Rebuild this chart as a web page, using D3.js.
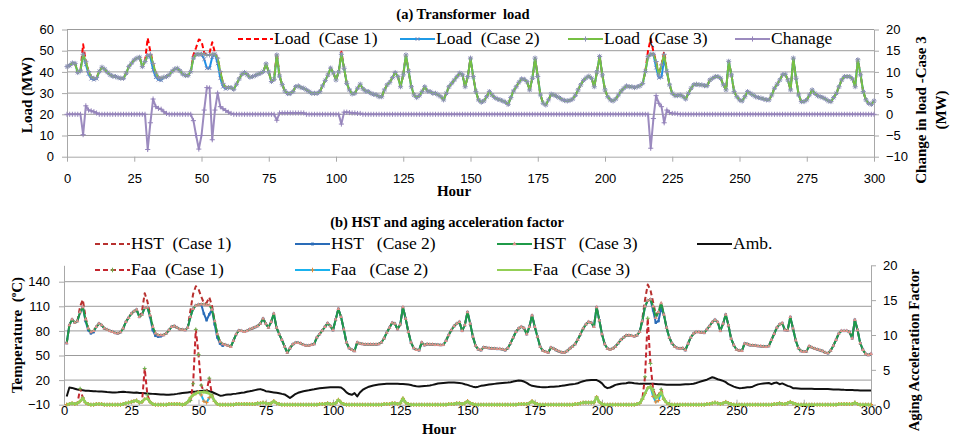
<!DOCTYPE html>
<html>
<head>
<meta charset="utf-8">
<script src="https://cdn.jsdelivr.net/npm/d3@7"></script>
<style>
  body { margin: 0; background: #fff; }
  svg { display: block; }
  text { font-family: "Liberation Serif", "Times New Roman", serif; fill: #000; }
  .tick text { font-family: "Liberation Sans", Arial, sans-serif; font-size: 13px; }
  .pre { white-space: pre; }
</style>
</head>
<body>
<svg id="chart" width="954" height="437"></svg>
<script>
// ---------------- data ----------------
const hourTicks = [0, 25, 50, 75, 100, 125, 150, 175, 200, 225, 250, 275, 300];
const loadTicks = [0, 10, 20, 30, 40, 50, 60];
const changeTicks = [-10, -5, 0, 5, 10, 15, 20];
const tempTicks = [-10, 20, 50, 80, 110, 140];
const faaTicks = [0, 5, 10, 15, 20];

// (a) hours 0..300
const loadCase3 = [
  42.5, 43, 44.2, 44, 39.7, 40.5, 48.3, 45, 40.2, 37.8,
  37, 37.3, 40.2, 42.2, 41.3, 39.8, 38.6, 38, 37.8, 37.3,
  37, 37, 39.4, 42.5, 44.1, 45.7, 46.5, 46.9, 42.5, 44.9,
  47.7, 48.3, 44, 39.4, 37.5, 37, 37.5, 37.8, 38.6, 40.2,
  41.3, 41.7, 40.5, 39, 38.3, 38.3, 40.2, 46.5, 48.3, 48.3,
  48.3, 48.3, 48, 48, 48.3, 48.3, 46.5, 40.2, 34.6, 32.6,
  32.6, 32.6, 31.8, 34.2, 36.7, 38.9, 39.7, 38.6, 37.5, 37.8,
  38.3, 38.9, 39.4, 40.2, 43.8, 40, 35.5, 36.5, 48, 38,
  34, 31, 29.8, 29.8, 30.7, 33, 33.4, 32.6, 32.3, 31.5,
  30.7, 29.9, 29.9, 29.9, 30.7, 33.4, 36, 38.5, 41.8, 39.5,
  36.2, 40, 48.3, 41.7, 34.6, 31.5, 29.6, 29.9, 32.3, 34.2,
  32, 31, 30.7, 29.9, 29.4, 29.1, 28.3, 28.3, 31.5, 33.9,
  35.1, 37.3, 39.7, 37.8, 33, 38.6, 48, 40.2, 33, 29.1,
  27.9, 28.8, 30.7, 33, 31, 30.7, 29.9, 29.9, 29.1, 28.3,
  26.8, 29.9, 33, 34.6, 36.2, 37.8, 39.4, 38.6, 33, 37.8,
  46.5, 37.8, 30.7, 26.8, 25.7, 26.3, 28.3, 30.7, 29.1, 27.9,
  27.2, 26.8, 26.3, 25.7, 24.7, 27.9, 31, 33, 35.1, 36.7,
  36.5, 35.4, 31.5, 37, 46.5, 37.8, 29.1, 25.2, 24.4, 26.8,
  29.5, 29.1, 28.5, 27.8, 27, 26.5, 26.3, 26.6, 27.2, 29,
  31.5, 33.9, 36, 37.2, 38, 37, 33, 40, 47.3, 38.6,
  31.5, 28.3, 26.8, 26.3, 27.2, 29.1, 31, 32.3, 33.4, 33,
  33, 32.6, 33, 33.4, 34.6, 40.2, 47.2, 48.3, 48.3, 44.9,
  38.6, 43.3, 48.3, 40.2, 33.9, 29.9, 28.8, 28.8, 29.1, 28.3,
  27.2, 29.9, 32.3, 33.9, 34.2, 33.9, 33.9, 33.5, 33.5, 36.2,
  37, 37.8, 37.8, 37, 33.9, 31.5, 45, 38.6, 30.7, 28.3,
  26.8, 26.3, 28.3, 30.7, 29.9, 29.1, 28.3, 27.9, 27.6, 27.2,
  26.8, 26.8, 29.1, 32.3, 34.2, 36.2, 38.6, 38.9, 36.2, 31.5,
  46.5, 37, 29.1, 26, 26, 26.8, 29.1, 31.5, 29.9, 28.8,
  28.3, 27.9, 27.2, 26.3, 26, 27.9, 29.9, 33, 36.2, 37.8,
  37.8, 37.8, 36.7, 33, 45.7, 38.6, 30.7, 26.8, 25.2, 24.7,
  26.3
];
// hours where Case 1 / Case 2 leave the Case 3 curve: [hour, MW]
const loadCase1Diff = [[6, 53], [30, 56], [31, 49.5], [47, 48], [48, 51.5], [49, 55.3], [50, 54.5], [51, 49],
  [53, 49], [54, 54], [55, 49], [78, 49], [102, 49.5], [216, 50], [217, 55.6], [218, 49.5], [222, 49.5]];
const loadCase2Diff = [[7, 43.5], [8, 39], [9, 36.8], [10, 36.3], [11, 36.8], [31, 47], [32, 41], [33, 37.5],
  [34, 36.3], [35, 36], [51, 46], [52, 41.7], [53, 41.7], [54, 47], [56, 44], [57, 37], [58, 33], [59, 32],
  [219, 42], [220, 37.2], [221, 37.5], [222, 46]];
const loadChange = [
  0, 0, 0, 0, 0, 0, -4.8, 2, 1, 0.8,
  0.6, 0.3, 0, 0, 0, 0, 0, 0, 0, 0,
  0, 0, 0, 0, 0, 0, 0, 0, 0, 0,
  -8.3, -2, 3.6, 1.8, 1.4, 1.2, 0.6, 0.2, 0, 0,
  0, 0, 0, 0, 0, 0, 0, -1.5, -5, -8.2,
  -5, 1, 6.3, 6.2, -6, 1, 5, 1.8, 1.3, 0.9,
  0.5, 0.2, 0, 0, 0, 0, 0, 0, 0, 0,
  0, 0, 0, 0, 0, 0, 0, 0, -1.4, 0.3,
  0.3, 0.3, 0.3, 0.3, 0.3, 0.3, 0.3, 0.3, 0.3, 0,
  0, 0, 0, 0, 0, 0, 0, 0, 0, 0,
  0, 0, -2.3, 0.5, 0.5, 0.4, 0.3, 0.3, 0.2, 0.2,
  0, 0, 0, 0, 0, 0, 0, 0, 0, 0,
  0, 0, 0, 0, 0, 0, 0, 0, 0, 0,
  0, 0, 0, 0, 0, 0, 0, 0, 0, 0,
  0, 0, 0, 0, 0, 0, 0, 0, 0, 0,
  0, 0, 0, 0, 0, 0, 0, 0, 0, 0,
  0, 0, 0, 0, 0, 0, 0, 0, 0, 0,
  0, 0, 0, 0, 0, 0, 0, 0, 0, 0,
  0, 0, 0, 0, 0, 0, 0, 0, 0, 0,
  0, 0, 0, 0, 0, 0, 0, 0, 0, 0,
  0, 0, 0, 0, 0, 0, 0, 0, 0, 0,
  0, 0, 0, 0, 0, 0, 0, -8, -1, 4.4,
  2.6, 1.8, -2, 1, 0.4, 0.2, 0.2, 0.1, 0, 0,
  0, 0, 0, 0, 0, 0, 0, 0, 0, 0,
  0, 0, 0, 0, 0, 0, 0, 0, 0, 0,
  0, 0, 0, 0, 0, 0, 0, 0, 0, 0,
  0, 0, 0, 0, 0, 0, 0, 0, 0, 0,
  0, 0, 0, 0, 0, 0, 0, 0, 0, 0,
  0, 0, 0, 0, 0, 0, 0, 0, 0, 0,
  0, 0, 0, 0, 0, 0, 0, 0, 0, 0,
  0
];

// (b) hours 1..300
const hstCase3 = [
  65, 87, 94, 90, 92, 103, 109, 94, 83, 78.5,
  80, 85, 89, 87, 83, 81.5, 80, 79, 77.5, 77,
  78.5, 83, 91, 96, 101, 104, 106, 97, 100, 108,
  108.7, 99, 85, 77, 75, 75, 75, 77, 81, 85,
  86, 84, 82, 81.5, 81, 84, 97, 107, 111, 112,
  112.4, 112.4, 111.5, 111.5, 106, 92, 76, 67, 64, 63,
  62, 60.7, 68, 76, 80.5, 80, 79, 80, 82, 83,
  84.5, 86, 89, 95, 89, 84, 91, 101, 84, 76,
  69, 61, 53.5, 59, 63.5, 65.5, 65.5, 64.8, 63, 62,
  62, 63, 64, 72, 76, 80.5, 85, 89.5, 86, 81,
  94, 107, 97, 82, 66, 59, 57, 55.5, 66, 64.5,
  64, 63.5, 63.5, 63.5, 63.5, 63.5, 64, 66, 71, 78,
  84, 90, 89, 82, 88, 109, 95, 79, 66, 59,
  57, 56.5, 66, 62.6, 64, 63.5, 63.5, 63, 63, 62.8,
  63, 68, 75, 81, 86, 89, 91, 80, 87, 103,
  89, 73, 62, 57.5, 56.5, 60, 59.5, 59, 58.5, 58.5,
  58, 58, 57.5, 56.5, 59, 65, 72, 79, 83, 85,
  83.5, 76, 85, 99, 85, 73, 61, 56, 54.5, 53.5,
  59.8, 58.5, 56.5, 55, 54, 53.5, 55.5, 58.5, 61, 64,
  69.5, 76, 83, 88, 91, 90, 85, 109, 93, 76,
  64, 58.5, 57.3, 58.5, 61, 65, 69, 72, 74.5, 74.7,
  74, 73.5, 74.7, 79, 92, 110, 117, 118.5, 110, 96,
  103, 114, 100, 84, 72, 65, 61, 59, 58.5, 59,
  56.5, 64.6, 72, 76.7, 78.7, 78.7, 78, 77.5, 82, 86,
  90.8, 93.6, 90.8, 80, 88.8, 100, 86.8, 70.6, 62.6, 57.3,
  56, 55.7, 64.6, 64, 62.6, 62.5, 62, 61.5, 61.4, 61,
  60.6, 61.5, 69, 76.5, 84, 88, 89.6, 81, 80.7, 97,
  83, 68.6, 59, 55.5, 54.5, 55, 61.4, 60, 58.5, 57.5,
  56.5, 55.5, 53.5, 52.8, 56, 62, 69, 76.7, 80, 80,
  80, 78.7, 71, 93.6, 81, 65, 57, 52, 50.5, 52
];
const hstCase1Diff = [[6, 110], [7, 118], [8, 97], [29, 104], [30, 126], [31, 116], [32, 100],
  [47, 105], [48, 125], [49, 134.5], [50, 131], [51, 122], [52, 114], [53, 114], [54, 121], [55, 111],
  [215, 95], [216, 118], [217, 136.5], [218, 130], [219, 115], [220, 100]];
const hstCase2Diff = [[8, 92], [9, 81], [10, 77], [11, 78.5], [32, 97], [33, 81], [34, 74], [35, 73], [36, 73.5],
  [52, 101], [53, 93], [54, 100], [56, 88], [57, 72], [58, 64.5], [59, 62],
  [219, 105], [220, 90], [221, 92], [222, 108]];
const ambient = [
  0, 11, 10.5, 9.5, 8.5, 8, 7.5, 7, 7, 6.8,
  6.5, 6.3, 6.2, 6, 5.8, 5.5, 5.3, 5, 5, 5.2,
  5.5, 5.8, 5.5, 5.3, 5, 4.5, 5, 4.3, 4.2, 4,
  3.8, 3.5, 3.2, 3, 2.8, 2.5, 2.3, 2.1, 2.2, 2.5,
  2.8, 3.2, 3.8, 4.2, 4.6, 5, 5.4, 5.7, 6, 6.4,
  6.8, 7, 7, 6.5, 5.5, 4, 2.5, 1, 1.2, 2,
  2.3, 2.5, 3.2, 3.5, 4, 4.5, 5, 5.7, 6.3, 7,
  7.8, 8.5, 9, 8, 6.5, 6, 5.5, 5, 4.5, 4,
  3.2, 2.5, 0.5, -1.9, 0.5, 3, 4.5, 5.5, 6.5, 7,
  7.5, 8.2, 8.8, 9.5, 10, 10.5, 10.8, 11, 11.2, 11.3,
  11.4, 11.4, 11, 8.5, 5, 3, 2.1, 4.1, 0.1, 4.9,
  8, 10, 11.5, 12.5, 13.5, 14, 14.5, 15, 15.2, 15.4,
  15.5, 15.5, 15.5, 15.4, 15.3, 15.2, 15, 14.5, 14, 13,
  12.5, 12.2, 12.5, 12.8, 13, 13.5, 14.2, 15, 15.8, 16.2,
  16.5, 16.8, 17, 17, 17, 16.8, 16.5, 16, 15, 14.2,
  13, 12, 11.4, 12, 13, 13.5, 14, 14.5, 15, 15.4,
  15.8, 16.2, 16.5, 16.8, 17, 17.5, 18.2, 19, 19.4, 19.2,
  18.2, 16.5, 14.5, 13, 12.5, 12, 11.5, 11.4, 11.4, 11.5,
  11.8, 12, 12.3, 12.6, 13, 13.5, 14, 14.5, 15, 15.4,
  16.2, 17.5, 18.5, 19.4, 19.8, 20.1, 20.2, 20, 18.5, 16,
  12, 10.2, 11, 12.5, 14.2, 15, 15.6, 16, 16.2, 17,
  16.8, 16.2, 15.8, 15.4, 15.4, 15.4, 15.4, 15.4, 15.4, 15.2,
  15, 14.8, 14.5, 14.2, 14.2, 14.2, 14.2, 14.2, 14.2, 14.5,
  14.8, 15, 15.2, 15.6, 16.5, 17.5, 18.5, 19.5, 20.5, 22,
  23.5, 22.5, 21, 20.2, 19, 17.5, 15, 13.5, 12, 11,
  10.2, 10.4, 10.8, 11.2, 11.4, 12, 13.5, 14.8, 15.4, 15.8,
  16.2, 16.5, 15, 16.5, 17, 15, 16, 14.5, 13, 12,
  10.2, 10, 9.8, 9.6, 9.5, 9.4, 9.3, 9.3, 9.2, 9.2,
  9.1, 9, 9, 9, 8.8, 8.6, 8.5, 8.4, 8.3, 8.1,
  8, 7.9, 7.8, 7.6, 7.5, 7.4, 7.3, 7.3, 7.2, 7.3
];
// one row per day (24 h)
const faaCase3 = [
  0, 0.1, 0.2, 0.1, 0.2, 0.5, 0.9, 0.3, 0.1, 0, 0, 0.1, 0.1, 0.1, 0, 0, 0, 0, 0, 0, 0, 0.1, 0.2, 0.3,
  0.4, 0.5, 0.6, 0.3, 0.4, 0.8, 0.9, 0.4, 0.1, 0, 0, 0, 0, 0, 0.1, 0.1, 0.1, 0.1, 0.1, 0, 0.1, 0.4, 1.0, 1.4,
  1.6, 1.8, 1.8, 1.8, 1.7, 1.6, 1.2, 0.5, 0.1, 0, 0, 0, 0, 0, 0, 0.1, 0.1, 0.1, 0.1, 0.1, 0.1, 0.1, 0.1, 0.2,
  0.2, 0.3, 0.2, 0.1, 0.2, 0.5, 0.2, 0.1, 0, 0, 0, 0, 0, 0, 0, 0, 0, 0, 0, 0, 0, 0, 0.1, 0.1,
  0.1, 0.2, 0.1, 0.1, 0.2, 0.7, 0.3, 0.1, 0, 0, 0, 0, 0, 0, 0, 0, 0, 0, 0, 0, 0, 0, 0.1, 0.1,
  0.1, 0.2, 0.2, 0.1, 0.2, 0.9, 0.3, 0.1, 0, 0, 0, 0, 0, 0, 0, 0, 0, 0, 0, 0, 0, 0, 0.1, 0.1,
  0.1, 0.2, 0.2, 0.1, 0.2, 0.5, 0.2, 0.1, 0, 0, 0, 0, 0, 0, 0, 0, 0, 0, 0, 0, 0, 0, 0, 0,
  0.1, 0.1, 0.1, 0.1, 0.2, 0.5, 0.2, 0.1, 0, 0, 0, 0, 0, 0, 0, 0, 0, 0, 0, 0, 0, 0.1, 0.1, 0.2,
  0.3, 0.3, 0.3, 0.3, 0.3, 1.1, 0.4, 0.1, 0, 0, 0, 0, 0, 0, 0, 0, 0, 0, 0, 0, 0.1, 0.2, 0.8, 1.6,
  2.4, 2.6, 1.8, 0.9, 1.2, 1.8, 0.8, 0.3, 0.1, 0, 0, 0, 0, 0, 0, 0, 0, 0, 0, 0, 0, 0, 0.1, 0.1,
  0.2, 0.3, 0.2, 0.1, 0.2, 0.4, 0.2, 0.1, 0, 0, 0, 0, 0, 0, 0, 0, 0, 0, 0, 0, 0, 0, 0, 0.1,
  0.1, 0.2, 0.1, 0.1, 0.2, 0.4, 0.2, 0.1, 0, 0, 0, 0, 0, 0, 0, 0, 0, 0, 0, 0, 0, 0, 0, 0.1,
  0.1, 0.1, 0.1, 0.1, 0.1, 0.3, 0.1, 0, 0, 0, 0, 0
];
const faaCase1Diff = [[6, 2.3], [7, 1.0], [30, 5.2], [31, 1.4], [47, 0.6], [48, 3], [49, 10.8], [50, 7.2],
  [51, 2.8], [52, 1.9], [53, 1.9], [54, 3.8], [55, 1.4], [216, 4], [217, 12.4], [218, 5.9], [219, 2.2],
  [220, 1.1], [221, 1.4], [222, 2.2]];
const faaCase2Diff = [[51, 1.4], [52, 0.5], [53, 0.3], [54, 1.0], [55, 1.2], [219, 1.2], [220, 0.4], [221, 0.6]];

// ---------------- build series ----------------
const hoursA = loadCase3.map((v, i) => i);
const hoursB = hstCase3.map((v, i) => i + 1);
const withDiff = (base, diff, first) => {
  const m = new Map(diff);
  return base.map((v, i) => m.has(i + first) ? m.get(i + first) : v);
};
const loadCase1 = withDiff(loadCase3, loadCase1Diff, 0);
const loadCase2 = withDiff(loadCase3, loadCase2Diff, 0);
const hstCase1 = withDiff(hstCase3, hstCase1Diff, 1);
const hstCase2 = withDiff(hstCase3, hstCase2Diff, 1);
const faaCase1 = withDiff(faaCase3, faaCase1Diff, 1);
const faaCase2 = withDiff(faaCase3, faaCase2Diff, 1);

const svg = d3.select("#chart");
const GRID = "#9b9b9b", AXIS = "#a8a8a8";
const symTimes = d3.symbolTimes || d3.symbolCross;
const symPlus = d3.symbolPlus || d3.symbolCross;

const xA = d3.scaleLinear().domain([0, 300]).range([67, 874]);
const yA = d3.scaleLinear().domain([0, 60]).range([156.7, 29.5]);
const yA2 = d3.scaleLinear().domain([-10, 20]).range([156.7, 29.5]);

const xB = d3.scaleLinear().domain([0, 300]).range([64, 871]);
const yB = d3.scaleLinear().domain([-10, 160]).range([404.7, 265.3]);
const yB2 = d3.scaleLinear().domain([0, 20]).range([404.7, 265.3]);

function grid(g, ticks, y, x0, x1) {
  g.append("g").selectAll("line").data(ticks).join("line")
    .attr("x1", x0).attr("x2", x1)
    .attr("y1", d => y(d)).attr("y2", d => y(d))
    .attr("stroke", GRID).attr("stroke-width", 1);
}

function styleAxis(sel) {
  sel.select(".domain").attr("stroke", AXIS);
  sel.selectAll(".tick line").attr("stroke", AXIS);
}

function series(g, xs, ys, x, y, o) {
  const pts = ys.map((v, i) => [xs[i], v]);
  g.append("path").datum(pts)
    .attr("fill", "none").attr("stroke", o.color).attr("stroke-width", o.width || 2)
    .attr("stroke-dasharray", o.dash || null).attr("stroke-linejoin", "round")
    .attr("d", d3.line().x(d => x(d[0])).y(d => y(d[1])));
  if (o.marker) {
    g.append("g").selectAll("path").data(pts).join("path")
      .attr("transform", d => `translate(${x(d[0])},${y(d[1])})`)
      .attr("d", d3.symbol(o.marker, o.msize || 12))
      .attr("fill", o.mfill || "none")
      .attr("stroke", o.mstroke || "none").attr("stroke-width", 1);
  }
}

function legend(g, items, y) {
  const it = g.append("g").selectAll("g").data(items).join("g")
    .attr("transform", d => `translate(${d.x},${y})`);
  it.append("line").attr("x1", 0).attr("x2", 35)
    .attr("stroke", d => d.color).attr("stroke-width", 2)
    .attr("stroke-dasharray", d => d.dash || null);
  it.filter(d => d.marker).append("path")
    .attr("transform", "translate(17.5,0)")
    .attr("d", d => d3.symbol(d.marker, d.msize || 12)())
    .attr("fill", d => d.mfill || "none")
    .attr("stroke", d => d.mstroke || "none");
  it.append("text").attr("class", "pre").attr("x", 36).attr("y", 5)
    .attr("font-size", "17.5px").text(d => d.label);
}

function vLabel(x, y, txt, size) {
  return svg.append("text").attr("class", "pre")
    .attr("transform", `translate(${x},${y}) rotate(-90)`)
    .attr("text-anchor", "middle").attr("dy", "0.35em")
    .attr("font-weight", "bold").attr("font-size", size || "15px").text(txt);
}

// ---------------- (a) transformer load ----------------
const gTop = svg.append("g");
grid(gTop, loadTicks.filter(v => v > 0), yA, xA(0), xA(300));

gTop.append("g").attr("transform", `translate(0,${yA(0)})`)
  .call(d3.axisBottom(xA).tickValues(hourTicks).tickSize(5).tickSizeOuter(0).tickPadding(12))
  .call(styleAxis);
gTop.append("g").attr("transform", `translate(${xA(0)},0)`)
  .call(d3.axisLeft(yA).tickValues(loadTicks).tickSize(5).tickSizeOuter(0).tickPadding(8))
  .call(styleAxis);
gTop.append("g").attr("transform", `translate(${xA(300)},0)`)
  .call(d3.axisRight(yA2).tickValues(changeTicks).tickSize(5).tickSizeOuter(0).tickPadding(7))
  .call(styleAxis);

series(gTop, hoursA, loadCase1, xA, yA, { color: "#ff0000", dash: "5,3" });
series(gTop, hoursA, loadCase2, xA, yA, { color: "#1f8fe6", marker: symTimes, msize: 10, mstroke: "#7f86b4" });
series(gTop, hoursA, loadCase3, xA, yA, { color: "#76c043", marker: symPlus, msize: 10, mstroke: "#8c8fb6" });
series(gTop, hoursA, loadChange, xA, yA2, { color: "#9c8bbf", marker: symPlus, msize: 10, mstroke: "#9483ba" });

legend(gTop, [
  { x: 238, label: "Load  (Case 1)", color: "#ff0000", dash: "5,3" },
  { x: 400, label: "Load  (Case 2)", color: "#1f9ae6", marker: symTimes, msize: 10, mstroke: "#7f86b4" },
  { x: 568, label: "Load  (Case 3)", color: "#76c043", marker: symPlus, msize: 10, mstroke: "#8c8fb6" },
  { x: 735, label: "Chanage", color: "#9c8bbf", marker: symPlus, msize: 10, mstroke: "#9483ba" }
], 39);

svg.append("text").attr("class", "pre").attr("x", 463).attr("y", 19).attr("text-anchor", "middle")
  .attr("font-weight", "bold").attr("font-size", "14.5px").text("(a) Transformer  load");
svg.append("text").attr("x", 454).attr("y", 196).attr("text-anchor", "middle")
  .attr("font-weight", "bold").attr("font-size", "15px").text("Hour");
vLabel(27, 95, "Load (MW)");
vLabel(921, 110, "Change in load -Case 3");
vLabel(941, 110, "(MW)");

// ---------------- (b) HST and aging acceleration factor ----------------
const gBot = svg.append("g");
grid(gBot, tempTicks.filter(v => v > -10), yB, xB(0), xB(300));

gBot.append("g").attr("transform", `translate(0,${yB(-10)})`)
  .call(d3.axisBottom(xB).tickValues(hourTicks).tickSize(-5).tickSizeOuter(0).tickPadding(1))
  .call(styleAxis);
gBot.append("g").attr("transform", `translate(${xB(0)},0)`)
  .call(d3.axisLeft(yB).tickValues(tempTicks).tickSize(5).tickSizeOuter(0).tickPadding(9))
  .call(styleAxis);
gBot.append("g").attr("transform", `translate(${xB(300)},0)`)
  .call(d3.axisRight(yB2).tickValues(faaTicks).tickSize(5).tickSizeOuter(0).tickPadding(7))
  .call(styleAxis);

series(gBot, hoursB, hstCase1, xB, yB, { color: "#b8312f", dash: "5,3" });
series(gBot, hoursB, hstCase2, xB, yB, { color: "#2a6cb8", marker: d3.symbolSquare, msize: 6, mfill: "#2a6cb8" });
series(gBot, hoursB, hstCase3, xB, yB, { color: "#1f9a48", marker: d3.symbolTriangle, msize: 7, mfill: "#dc918b" });
series(gBot, hoursB, ambient, xB, yB, { color: "#111111" });
series(gBot, hoursB, faaCase1, xB, yB2, { color: "#c4262e", dash: "5,3", marker: symPlus, msize: 6, mstroke: "#6ab04c" });
series(gBot, hoursB, faaCase2, xB, yB2, { color: "#1ab2ee", marker: symPlus, msize: 6, mstroke: "#f08a30" });
series(gBot, hoursB, faaCase3, xB, yB2, { color: "#93cf55", width: 2.5 });

legend(gBot, [
  { x: 95, label: "HST  (Case 1)", color: "#b8312f", dash: "5,3" },
  { x: 295, label: "HST   (Case 2)", color: "#2a6cb8", marker: d3.symbolSquare, msize: 8, mfill: "#2a6cb8" },
  { x: 497, label: "HST   (Case 3)", color: "#1f9a48", marker: d3.symbolTriangle, msize: 8, mfill: "#dc918b" },
  { x: 697, label: "Amb.", color: "#111111" }
], 244);
legend(gBot, [
  { x: 95, label: "Faa  (Case 1)", color: "#c4262e", dash: "5,3", marker: symPlus, msize: 8, mstroke: "#6ab04c" },
  { x: 295, label: "Faa   (Case 2)", color: "#1ab2ee", marker: symPlus, msize: 8, mstroke: "#f08a30" },
  { x: 497, label: "Faa   (Case 3)", color: "#93cf55" }
], 270);

svg.append("text").attr("x", 447).attr("y", 227).attr("text-anchor", "middle")
  .attr("font-weight", "bold").attr("font-size", "14.5px").text("(b) HST and aging acceleration factor");
svg.append("text").attr("x", 439).attr("y", 434).attr("text-anchor", "middle")
  .attr("font-weight", "bold").attr("font-size", "15px").text("Hour");

const tLabel = svg.append("text").attr("class", "pre")
  .attr("transform", "translate(17,335) rotate(-90)")
  .attr("text-anchor", "middle").attr("dy", "0.35em")
  .attr("font-weight", "bold").attr("font-size", "15px");
tLabel.append("tspan").text("Temperature  (");
tLabel.append("tspan").attr("font-size", "9px").attr("dy", "-6").text("o");
tLabel.append("tspan").attr("dy", "6").text("C)");
vLabel(914, 350, "Aging Acceleration Factor", "14.5px");
</script>
</body>
</html>
